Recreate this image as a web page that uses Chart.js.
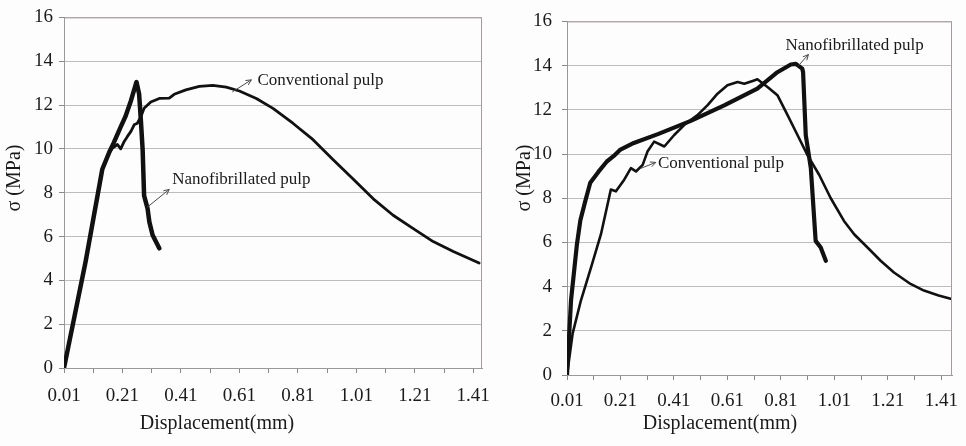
<!DOCTYPE html>
<html>
<head>
<meta charset="utf-8">
<script src="https://cdn.jsdelivr.net/npm/chart.js@4.4.1/dist/chart.umd.min.js"></script>
<style>
  html, body { margin: 0; padding: 0; background: #fdfdfd; }
  #wrap { position: relative; width: 966px; height: 446px; }
  .box { position: absolute; top: 0; height: 446px; }
  #left { left: 0; width: 490px; }
  #right { left: 490px; width: 476px; }
</style>
</head>
<body>
<div id="wrap">
  <div class="box" id="left"><canvas id="chartLeft"></canvas></div>
  <div class="box" id="right"><canvas id="chartRight"></canvas></div>
</div>
<script>
// tick values / labels (shared by both panels)
const xTicks = [0.01, 0.11, 0.21, 0.31, 0.41, 0.51, 0.61, 0.71, 0.81, 0.91, 1.01, 1.11, 1.21, 1.31, 1.41];
const xTickLabels = ['0.01', '0.21', '0.41', '0.61', '0.81', '1.01', '1.21', '1.41'];
const yTicks = [0, 2, 4, 6, 8, 10, 12, 14, 16];

// left panel
const leftNanoX = [0.01, 0.084, 0.141, 0.164, 0.18, 0.204, 0.22, 0.239, 0.256, 0.258, 0.267, 0.273, 0.279, 0.284, 0.296, 0.302, 0.313, 0.336];
const leftNanoY = [0, 4.86, 9.07, 9.82, 10.27, 11.0, 11.47, 12.2, 12.97, 13.05, 12.5, 11.3, 9.97, 7.87, 7.27, 6.67, 6.07, 5.46];
const leftConvX = [0.01, 0.084, 0.141, 0.164, 0.176, 0.193, 0.204, 0.216, 0.227, 0.239, 0.25, 0.261, 0.273, 0.284, 0.307, 0.336, 0.37, 0.387, 0.427, 0.473, 0.519, 0.565, 0.61, 0.668, 0.725, 0.793, 0.862, 0.93, 0.999, 1.068, 1.136, 1.205, 1.273, 1.342, 1.43];
const leftConvY = [0, 4.86, 9.07, 9.82, 10.04, 10.2, 10.0, 10.34, 10.57, 10.8, 11.1, 11.17, 11.47, 11.85, 12.14, 12.3, 12.32, 12.49, 12.69, 12.85, 12.9, 12.82, 12.64, 12.3, 11.85, 11.17, 10.42, 9.52, 8.62, 7.72, 6.97, 6.36, 5.77, 5.32, 4.79];

// right panel
const rightNanoX = [0.01, 0.025, 0.047, 0.06, 0.079, 0.097, 0.128, 0.159, 0.184, 0.21, 0.26, 0.35, 0.473, 0.598, 0.722, 0.797, 0.847, 0.866, 0.89, 0.893, 0.903, 0.922, 0.94, 0.959, 0.978];
const rightNanoY = [0, 3.37, 5.9, 7.0, 7.9, 8.7, 9.2, 9.66, 9.9, 10.2, 10.5, 10.9, 11.5, 12.2, 12.96, 13.7, 14.05, 14.08, 13.86, 13.7, 10.86, 9.36, 6.07, 5.77, 5.17];
const rightConvX = [0.01, 0.031, 0.062, 0.1, 0.137, 0.174, 0.193, 0.224, 0.249, 0.268, 0.293, 0.311, 0.336, 0.374, 0.411, 0.448, 0.498, 0.536, 0.573, 0.61, 0.648, 0.673, 0.71, 0.722, 0.76, 0.797, 0.835, 0.872, 0.909, 0.953, 0.996, 1.046, 1.084, 1.134, 1.183, 1.233, 1.295, 1.345, 1.4, 1.445];
const rightConvY = [0, 1.87, 3.37, 4.87, 6.37, 8.39, 8.31, 8.84, 9.36, 9.21, 9.51, 10.11, 10.56, 10.34, 10.86, 11.31, 11.76, 12.21, 12.73, 13.11, 13.26, 13.18, 13.33, 13.38, 13.03, 12.66, 11.76, 10.86, 9.96, 9.06, 8.01, 6.97, 6.37, 5.77, 5.17, 4.64, 4.12, 3.82, 3.6, 3.45];

const FONT = "'Liberation Serif', 'Times New Roman', serif";
const pts = (xs, ys) => xs.map((x, i) => ({ x, y: ys[i] }));

// frame, axis titles and the arrow callouts
const decor = {
  id: 'decor',
  afterDraw(chart, args, o) {
    const { ctx, chartArea: a, scales: { x, y } } = chart;
    ctx.save();
    ctx.strokeStyle = '#a39aa2';
    ctx.lineWidth = 1;
    ctx.beginPath();
    ctx.moveTo(a.left, a.top + 0.5);
    ctx.lineTo(a.right - 0.5, a.top + 0.5);
    ctx.lineTo(a.right - 0.5, a.bottom);
    ctx.stroke();

    ctx.fillStyle = '#1a1a1a';
    ctx.font = '20px ' + FONT;
    ctx.textAlign = 'center';
    ctx.textBaseline = 'middle';
    ctx.fillText('Displacement(mm)', o.xTitle[0], o.xTitle[1]);
    ctx.save();
    ctx.translate(o.yTitle[0], o.yTitle[1]);
    ctx.rotate(-Math.PI / 2);
    ctx.fillText('σ (MPa)', 0, 0);
    ctx.restore();

    ctx.font = '17px ' + FONT;
    ctx.textAlign = 'left';
    o.notes.forEach(n => {
      ctx.fillStyle = '#1a1a1a';
      ctx.fillText(n.text, x.getPixelForValue(n.at[0]), y.getPixelForValue(n.at[1]));
      const x0 = x.getPixelForValue(n.from[0]), y0 = y.getPixelForValue(n.from[1]);
      const x1 = x.getPixelForValue(n.to[0]), y1 = y.getPixelForValue(n.to[1]);
      const ang = Math.atan2(y1 - y0, x1 - x0);
      ctx.strokeStyle = '#4a4a4a';
      ctx.lineWidth = 1;
      ctx.beginPath();
      ctx.moveTo(x0, y0);
      ctx.lineTo(x1, y1);
      ctx.moveTo(x1 - 6 * Math.cos(ang - 0.45), y1 - 6 * Math.sin(ang - 0.45));
      ctx.lineTo(x1, y1);
      ctx.lineTo(x1 - 6 * Math.cos(ang + 0.45), y1 - 6 * Math.sin(ang + 0.45));
      ctx.stroke();
    });
    ctx.restore();
  }
};

function makeChart(id, sets, p) {
  return new Chart(document.getElementById(id), {
    type: 'scatter',
    data: {
      datasets: sets.map(s => ({
        data: s.data,
        showLine: true,
        borderColor: '#111',
        borderWidth: s.width,
        pointRadius: 0,
        tension: 0,
        borderJoinStyle: 'round',
        borderCapStyle: 'round'
      }))
    },
    plugins: [decor],
    options: {
      responsive: true,
      maintainAspectRatio: false,
      animation: false,
      layout: { padding: { left: 0, right: p.right, top: p.top, bottom: 0 } },
      plugins: {
        legend: { display: false },
        tooltip: { enabled: false },
        decor: p.decor
      },
      scales: {
        x: {
          type: 'linear',
          min: 0.01,
          max: p.xMax,
          afterBuildTicks: s => { s.ticks = xTicks.map(v => ({ value: v })); },
          afterFit: s => { s.height = p.xHeight; s.paddingLeft = 0; s.paddingRight = 0; },
          ticks: {
            autoSkip: false,
            maxRotation: 0,
            padding: p.xPad,
            color: '#1a1a1a',
            font: { family: FONT, size: 19 },
            callback: (v, i) => (i % 2 === 0 ? xTickLabels[i / 2] : '')
          },
          grid: { drawOnChartArea: false, drawTicks: true, tickLength: 5, tickColor: '#888' },
          border: { display: true, color: '#999' }
        },
        y: {
          min: 0,
          max: 16,
          afterBuildTicks: s => { s.ticks = yTicks.map(v => ({ value: v })); },
          afterFit: s => { s.width = p.yWidth; },
          ticks: {
            padding: p.yPad,
            color: '#1a1a1a',
            font: { family: FONT, size: 19 }
          },
          grid: { color: '#bdbdbd', lineWidth: 1, drawTicks: true, tickLength: 5, tickColor: '#888' },
          border: { display: true, color: '#999' }
        }
      }
    }
  });
}

makeChart('chartLeft', [
  { data: pts(leftConvX, leftConvY), width: 2.8 },
  { data: pts(leftNanoX, leftNanoY), width: 4.5 }
], {
  xMax: 1.44, right: 8, top: 13, xHeight: 78, yWidth: 64, yPad: 6, xPad: 12,
  decor: {
    xTitle: [217, 424], yTitle: [15, 178],
    notes: [
      { text: 'Conventional pulp', at: [0.672, 13.1], from: [0.586, 12.6], to: [0.651, 13.15] },
      { text: 'Nanofibrillated pulp', at: [0.38, 8.6], from: [0.295, 7.34], to: [0.37, 8.15] }
    ]
  }
});

makeChart('chartRight', [
  { data: pts(rightConvX, rightConvY), width: 2.6 },
  { data: pts(rightNanoX, rightNanoY), width: 4.2 }
], {
  xMax: 1.45, right: 14, top: 19, xHeight: 71, yWidth: 77, yPad: 10, xPad: 10,
  decor: {
    xTitle: [230, 424], yTitle: [35, 178],
    notes: [
      { text: 'Nanofibrillated pulp', at: [0.827, 14.9], from: [0.876, 14.0], to: [0.913, 14.5] },
      { text: 'Conventional pulp', at: [0.35, 9.57], from: [0.286, 9.35], to: [0.342, 9.62] }
    ]
  }
});
</script>
</body>
</html>
